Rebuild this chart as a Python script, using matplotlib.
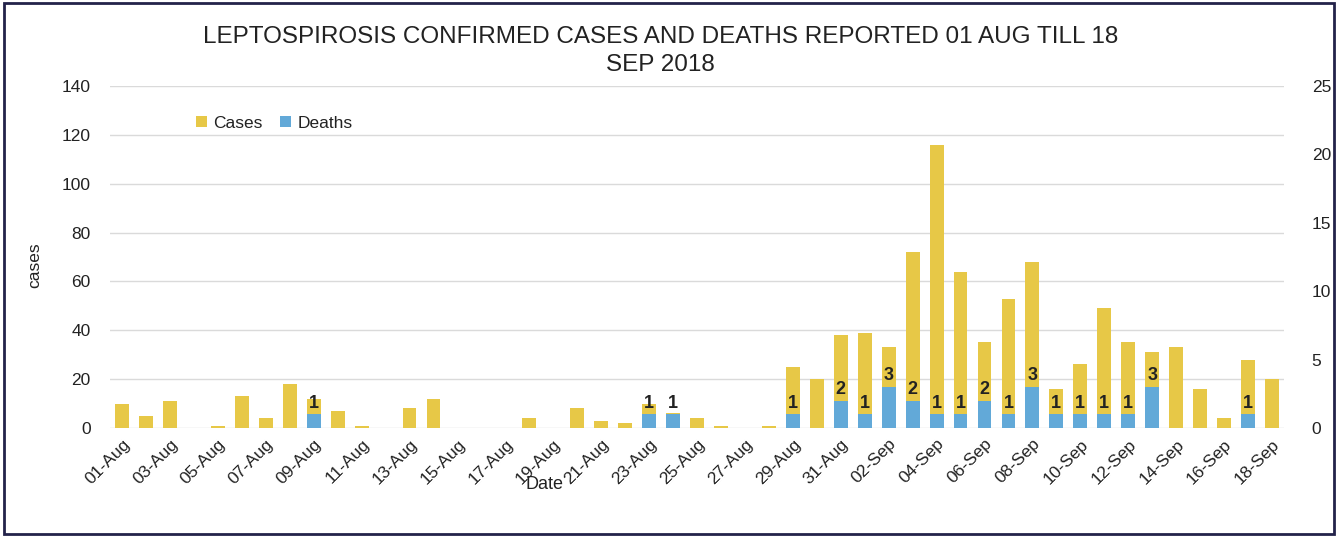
import matplotlib
matplotlib.use("Agg")
import matplotlib.pyplot as plt
import pandas as pd
from matplotlib.patches import Rectangle

plt.rcParams['font.family'] = ['Liberation Sans', 'DejaVu Sans']

dates = pd.date_range("2018-08-01", "2018-09-18", freq="D")
date_labels = [d.strftime("%d-%b") for d in dates]

cases = [10, 5, 11, 0, 1, 13, 4, 18, 12, 7,
         1, 0, 8, 12, 0, 0, 0, 4, 0, 8,
         3, 2, 10, 6, 4, 1, 0, 1, 25, 20,
         38, 39, 33, 72, 116, 64, 35, 53, 68, 16,
         26, 49, 35, 31, 33, 16, 4, 28, 20]
deaths = [0, 0, 0, 0, 0, 0, 0, 0, 1, 0,
          0, 0, 0, 0, 0, 0, 0, 0, 0, 0,
          0, 0, 1, 1, 0, 0, 0, 0, 1, 0,
          2, 1, 3, 2, 1, 1, 2, 1, 3, 1,
          1, 1, 1, 3, 0, 0, 0, 1, 0]

yellow = '#E7C847'
blue = '#62A9D8'
txt = '#222222'

fig = plt.figure(figsize=(13.39, 5.37), dpi=100)
ax = fig.add_axes([0.0822, 0.2030, 0.8767, 0.6369])
ax2 = ax.twinx()

x = list(range(len(dates)))
b1 = ax.bar(x, cases, width=0.58, color=yellow, label='Cases', zorder=2)
b2 = ax2.bar(x, deaths, width=0.58, color=blue, label='Deaths', zorder=2)

for i, d in enumerate(deaths):
    if d > 0:
        ax2.annotate(str(d), (i, d), xytext=(0, 2), textcoords='offset points',
                     ha='center', va='bottom', fontsize=13, fontweight='bold', color=txt)

ax.set_xlim(-0.5, len(dates) - 0.5)
ax.set_ylim(0, 140)
ax2.set_ylim(0, 25)
ax.set_yticks(range(0, 141, 20))
ax2.set_yticks(range(0, 26, 5))
ax.set_xticks(x[::2])
ax.set_xticklabels(date_labels[::2], rotation=45, ha='right', rotation_mode='anchor')

for a in (ax, ax2):
    for s in a.spines.values():
        s.set_visible(False)
    a.tick_params(length=0, labelsize=12.5, labelcolor=txt)
ax.tick_params(axis='y', pad=14)
ax2.tick_params(axis='y', pad=20)
ax.tick_params(axis='x', pad=6)

ax.yaxis.grid(True, color='#DADADA', linewidth=1)
ax.set_axisbelow(True)

ax.set_ylabel('cases', fontsize=12.5, color=txt)
ax.yaxis.set_label_coords(-0.058, 0.477)
ax.set_xlabel('Date', fontsize=13, color=txt)
ax.xaxis.set_label_coords(0.37, -0.14)

ax2.legend([b1, b2], ['Cases', 'Deaths'], loc='center left', bbox_to_anchor=(0.06, 0.89),
           ncol=2, frameon=False, fontsize=12.5, handlelength=0.6, handleheight=0.6,
           columnspacing=1.0, handletextpad=0.4, labelcolor=txt)

fig.text(0.493, 0.905, 'LEPTOSPIROSIS CONFIRMED CASES AND DEATHS REPORTED 01 AUG TILL 18\nSEP 2018',
         ha='center', va='center', fontsize=17.5, color=txt, linespacing=1.3)

fig.patches.append(Rectangle((0.003, 0.005), 0.993, 0.99, transform=fig.transFigure,
                             fill=False, edgecolor='#23224A', linewidth=2))

fig.savefig('out.png', dpi=100)
